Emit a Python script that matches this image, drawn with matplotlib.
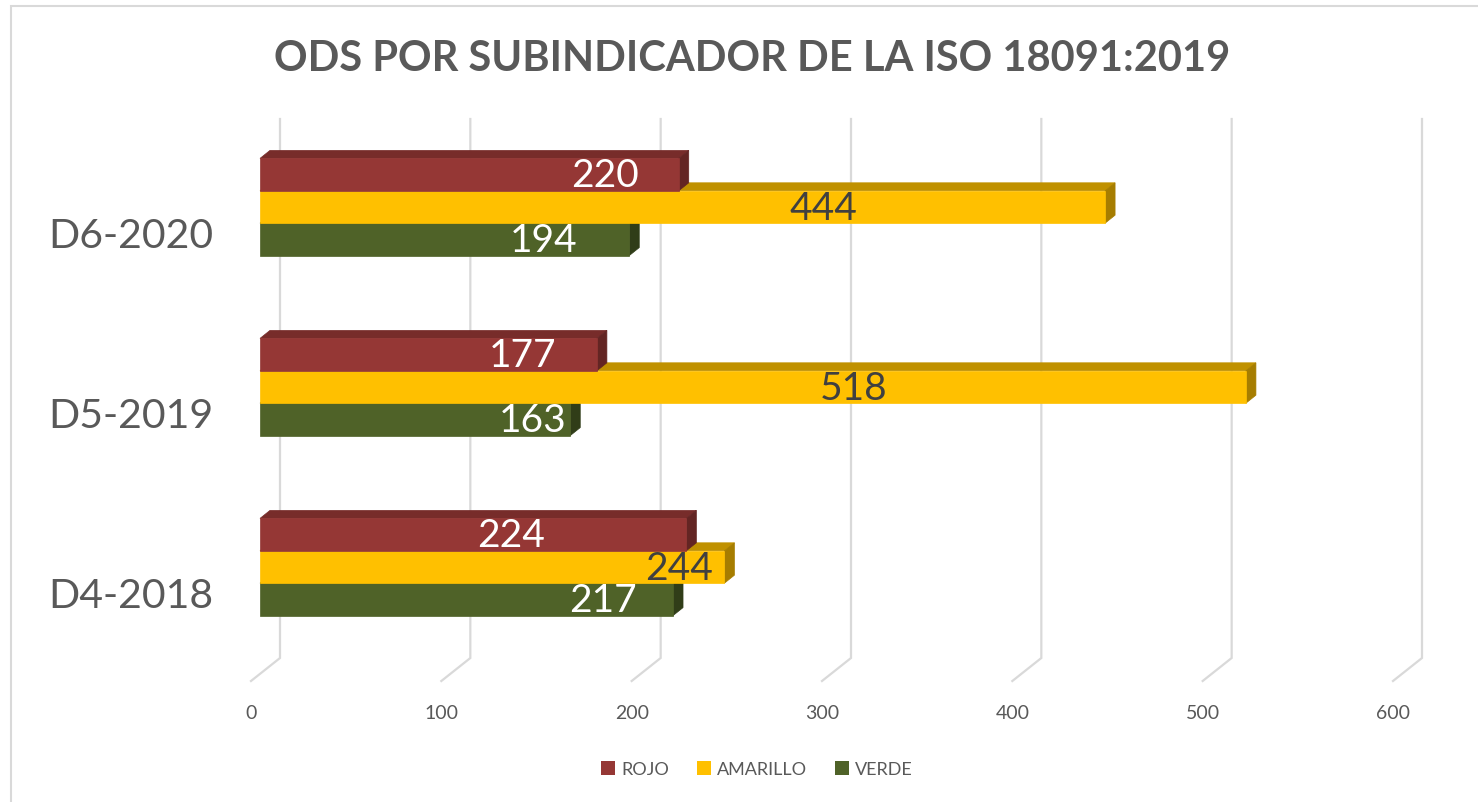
import matplotlib
matplotlib.use('Agg')
import matplotlib.pyplot as plt
from matplotlib.patches import Polygon, Patch, Rectangle

# Data
categories = ['D4-2018', 'D5-2019', 'D6-2020']
series = ['ROJO', 'AMARILLO', 'VERDE']
rojo = [224, 177, 220]
amarillo = [244, 518, 444]
verde = [217, 163, 194]
x_ticks = [0, 100, 200, 300, 400, 500, 600]
title = 'ODS POR SUBINDICADOR DE LA ISO 18091:2019'

# where the value labels sit along each bar (value units)
label_x_rojo = [132, 138, 181]
label_x_amarillo = [220, 312, 296]
label_x_verde = [180, 143, 149]

plt.rcParams['font.family'] = ['Lato', 'DejaVu Sans']
gray = '#595959'

W, H = 1478, 803
fig = plt.figure(figsize=(W / 100, H / 100), dpi=100)
# axes placed so that 0..600 spans the front plane of the bars
ax = fig.add_axes([260 / W, 1 - 700 / H, 1142 / W, 590 / H])
ppv = 1142 / 600.0   # pixels per value unit
ppc = 180.0          # pixels per category unit
ax.set_xlim(0, 600)
ax.set_ylim(-132 / ppc, 458 / ppc)
ax.axis('off')

# 3d depth of bars and of the floor, in data units
bdx, bdy = 10 / ppv, 8 / ppc
back_dx, front_dx = 20 / ppv, -9 / ppv
floor_back, floor_front, grid_top = -91 / ppc, -114 / ppc, 448 / ppc

for v in x_ticks:
    ax.plot([v + back_dx, v + back_dx, v + front_dx],
            [grid_top, floor_back, floor_front],
            color='#d9d9d9', lw=1.6, zorder=0, clip_on=False,
            solid_joinstyle='miter')
    ax.text(v + front_dx, -151 / ppc, str(v), ha='center', va='baseline',
            fontsize=14, color=gray, clip_on=False)

styles = {
    'ROJO': ('#953735', '#772c2a', '#632523', 'white'),
    'AMARILLO': ('#ffc000', '#c09100', '#a67d00', '#404040'),
    'VERDE': ('#4f6228', '#3b4a1e', '#303d18', 'white'),
}
values = {'ROJO': rojo, 'AMARILLO': amarillo, 'VERDE': verde}
label_x = {'ROJO': label_x_rojo, 'AMARILLO': label_x_amarillo, 'VERDE': label_x_verde}
slot = {'ROJO': 1, 'AMARILLO': 0, 'VERDE': -1}

h = 32.4 / ppc
ypos = list(range(len(categories)))

# bottom bar first so the bars above cover its top face
for z, name in enumerate(['VERDE', 'AMARILLO', 'ROJO']):
    front, top, side, tcol = styles[name]
    vals = values[name]
    centers = [y + slot[name] * h for y in ypos]
    for yc, w in zip(centers, vals):
        y0, y1 = yc - h / 2, yc + h / 2
        ax.add_patch(Polygon([(0, y1), (w, y1), (w + bdx, y1 + bdy), (bdx, y1 + bdy)],
                             closed=True, fc=top, ec=top, lw=0.5,
                             zorder=2 + z, clip_on=False))
        ax.add_patch(Polygon([(w, y0), (w + bdx, y0 + bdy), (w + bdx, y1 + bdy), (w, y1)],
                             closed=True, fc=side, ec=side, lw=0.5,
                             zorder=2 + z, clip_on=False))
    ax.barh(centers, vals, height=h, left=0, color=front, edgecolor=front,
            lw=0.5, zorder=2.5 + z, clip_on=False)
    for yc, lx, w in zip(centers, label_x[name], vals):
        ax.text(lx, yc - 11.5 / ppc, str(w), ha='center', va='baseline',
                fontsize=28, color=tcol, zorder=10)

for y, cat in zip(ypos, categories):
    ax.text(-47 / ppv, y - 40 / ppc, cat, ha='right', va='baseline',
            fontsize=29.5, fontweight='normal', color=gray, clip_on=False)

fig.text(752 / W, 1 - 71 / H, title, ha='center', va='baseline',
         fontsize=30, fontweight='bold', color=gray)

handles = [Patch(fc=styles[s][0], ec='none', label=s) for s in series]
fig.legend(handles=handles, loc='center', bbox_to_anchor=(757 / W, 1 - 770 / H),
           ncol=3, frameon=False, fontsize=13, labelcolor=gray,
           handlelength=0.8, handleheight=0.8, handletextpad=0.35,
           columnspacing=1.5)

# chart frame (only its left and top edges are in the picture)
fig.add_artist(Rectangle((11 / W, -0.1), 1.2, 1.1 - 7 / H,
                         transform=fig.transFigure, fill=False,
                         ec='#d9d9d9', lw=1.5))

fig.savefig('out.png', dpi=100)
